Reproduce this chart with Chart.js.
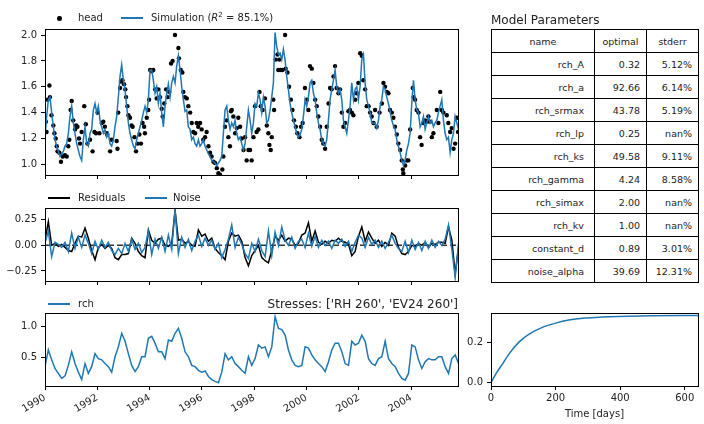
<!DOCTYPE html>
<html>
<head>
<meta charset="utf-8">
<script src="https://cdn.jsdelivr.net/npm/chart.js@4.4.1/dist/chart.umd.min.js"></script>
<style>
  body { margin: 0; background: #fff; }
  #wrap { position: relative; width: 704px; height: 424px; background: #fff; font-family: 'DejaVu Sans', sans-serif; color: #222; }
  canvas { position: absolute; }
  .txt { position: absolute; white-space: nowrap; font-size: 10px; line-height: 12px; }
  .big { font-size: 12px; line-height: 14px; }
  .hline { position: absolute; height: 1.6px; background: #1f77b4; }
  #params { position: absolute; left: 491px; top: 29px; border-collapse: collapse; table-layout: fixed; font-size: 9.5px; }
  #params td { border: 1px solid #000; height: 23px; padding: 0 6px 0 0; text-align: right; box-sizing: border-box; }
  #params tr:first-child td { text-align: center; padding: 0; }
</style>
</head>
<body>
<div id="wrap">
  <canvas id="cHead" width="470" height="200" style="left:0;top:0"></canvas>
  <canvas id="cRes" width="470" height="120" style="left:0;top:185px"></canvas>
  <canvas id="cRch" width="470" height="134" style="left:0;top:290px"></canvas>
  <canvas id="cStep" width="249" height="134" style="left:455px;top:290px"></canvas>

  <div style="position:absolute;left:57px;top:16px;width:4.5px;height:4.5px;border-radius:50%;background:#000"></div>
  <div class="txt" style="left:78px;top:12px">head</div>
  <div class="hline" style="left:121px;top:17px;width:22px"></div>
  <div class="txt" style="left:151px;top:12px">Simulation (<i>R</i><sup style="font-size:7px;line-height:0">2</sup> = 85.1%)</div>

  <div class="hline" style="left:48px;top:197px;width:22px;background:#000"></div>
  <div class="txt" style="left:78px;top:192px">Residuals</div>
  <div class="hline" style="left:145px;top:197px;width:22px"></div>
  <div class="txt" style="left:173px;top:192px">Noise</div>

  <div class="hline" style="left:48px;top:303px;width:22px"></div>
  <div class="txt" style="left:78px;top:298px">rch</div>
  <div class="txt big" style="right:246px;top:297px">Stresses: ['RH 260', 'EV24 260']</div>

  <div class="txt big" style="left:491px;top:13px">Model Parameters</div>
  <table id="params"></table>
</div>
<script>
// time axis (decimal years)
const xMin = 1990, xMax = 2005.79;
const yearTicks = [1990, 1992, 1994, 1996, 1998, 2000, 2002, 2004];

// simulated head, read at a fixed spacing
const simT0 = 1990, simDt = 0.06374;
const simValues = [
  1.21,1.37,1.50,1.52,1.40,1.29,1.19,1.14,1.10,1.06,
  1.08,1.10,1.14,1.16,1.24,1.37,1.45,1.32,1.24,1.16,
  1.11,1.06,1.03,1.19,1.29,1.16,1.14,1.24,1.27,1.42,
  1.47,1.40,1.45,1.34,1.29,1.24,1.27,1.21,1.24,1.16,
  1.14,1.19,1.29,1.37,1.52,1.68,1.77,1.65,1.58,1.45,
  1.32,1.24,1.19,1.14,1.12,1.19,1.24,1.29,1.34,1.40,
  1.45,1.40,1.50,1.73,1.73,1.65,1.55,1.60,1.47,1.55,
  1.40,1.29,1.45,1.55,1.62,1.52,1.63,1.68,1.63,1.76,
  1.84,1.73,1.60,1.50,1.41,1.42,1.29,1.27,1.19,1.21,
  1.16,1.14,1.19,1.14,1.16,1.19,1.14,1.11,1.08,1.06,
  1.03,1.02,1.01,0.99,1.01,
  1.03,1.06,1.24,1.42,1.45,1.34,1.27,1.32,1.29,1.34,
  1.24,1.19,1.21,1.16,1.11,1.16,1.29,1.42,1.34,1.24,
  1.32,1.47,1.45,1.55,1.50,1.40,1.52,1.45,1.32,1.34,
  1.42,1.52,1.63,2.02,1.91,1.85,1.86,1.81,1.89,1.81,
  1.68,1.58,1.47,1.40,1.34,1.29,1.24,1.21,1.23,1.27,
  1.37,1.50,1.45,1.52,1.63,1.65,1.55,1.50,1.40,1.32,
  1.27,1.19,1.16,1.14,1.19,1.34,1.50,1.58,1.65,1.73,
  1.60,1.55,1.58,1.50,1.34,1.29,1.24,1.34,1.45,1.63,
  1.50,1.58,1.60,1.50,1.60,1.81,1.85,1.63,1.50,1.45,
  1.40,1.32,1.32,1.32,1.28,1.34,1.45,1.50,1.60,1.58,
  1.52,1.47,1.41,1.34,1.30,1.27,1.19,1.14,1.09,1.03,
  0.99,1.03,1.11,1.16,1.24,1.47,1.65,1.50,1.42,1.40,
  1.29,1.32,1.37,1.27,1.32,1.37,1.32,1.34,1.29,1.32,
  1.34,1.40,1.45,1.50,1.34,1.24,1.19,1.21,1.09,1.19,
  1.24,1.37,1.32,1.27
];

// observed head
const headTimes = [
  1990.03,1990.06,1990.10,1990.17,1990.19,1990.25,1990.32,1990.36,1990.41,1990.45,
  1990.48,1990.55,1990.61,1990.68,1990.76,1990.83,1990.89,1990.93,1990.98,1991.02,
  1991.08,1991.15,1991.19,1991.24,1991.30,1991.34,1991.40,1991.50,1991.56,1991.62,
  1991.72,1991.82,1991.89,1991.95,1992.01,1992.08,1992.17,1992.23,1992.29,1992.36,
  1992.38,1992.49,1992.55,1992.74,1992.77,1992.80,1992.87,1992.91,1992.96,1993.02,
  1993.07,1993.10,1993.15,1993.19,1993.25,1993.31,1993.35,1993.42,1993.48,1993.54,
  1993.61,1993.67,1993.73,1993.79,1993.82,1993.89,1993.95,1993.98,1994.02,1994.08,
  1994.14,1994.21,1994.27,1994.33,1994.40,1994.46,1994.50,1994.56,1994.63,1994.69,
  1994.75,1994.82,1994.88,1994.97,1995.10,1995.12,1995.19,1995.25,1995.29,1995.35,
  1995.42,1995.48,1995.55,1995.61,1995.67,1995.74,1995.80,1995.86,1995.93,1995.99,
  1996.05,1996.12,1996.18,1996.25,1996.31,1996.37,1996.44,1996.50,1996.57,1996.63,
  1996.69,1996.78,1996.82,1996.88,1996.95,1997.01,1997.07,1997.11,1997.14,1997.20,
  1997.27,1997.33,1997.39,1997.46,
  1997.52,1997.59,1997.65,1997.71,1997.78,1997.84,1997.90,1997.97,1998.03,1998.09,
  1998.16,1998.20,1998.25,1998.32,1998.41,1998.48,1998.54,1998.58,1998.63,1998.67,
  1998.73,1998.76,1998.82,1998.89,1998.92,1998.96,1999.01,1999.08,1999.18,1999.20,
  1999.27,1999.33,1999.40,1999.46,1999.52,1999.59,1999.65,1999.73,1999.79,1999.85,
  1999.94,2000.01,2000.07,2000.13,2000.20,2000.26,2000.33,2000.39,2000.45,2000.52,
  2000.58,2000.64,2000.71,2000.77,2000.84,2000.90,2000.96,2001.03,2001.09,2001.15,
  2001.22,2001.28,2001.35,2001.41,2001.47,2001.60,2001.66,2001.73,2001.79,2001.86,
  2001.92,2001.98,2002.05,2002.11,2002.17,2002.24,2002.30,2002.37,2002.43,2002.49,
  2002.56,2002.62,2002.68,2002.79,2002.88,2002.94,2003.00,2003.07,2003.13,2003.19,
  2003.26,2003.32,2003.38,2003.45,2003.51,2003.58,2003.64,2003.68,2003.70,2003.77,
  2003.83,2003.89,2003.96,2004.06,2004.09,2004.15,2004.21,2004.28,2004.34,2004.40,
  2004.47,2004.53,2004.60,2004.66,2004.72,2004.79,2004.85,2004.98,2005.04,2005.11,
  2005.17,2005.23,2005.36,2005.42,2005.49,2005.55,2005.62,2005.68,2005.74,2005.79
];
const headValues = [
  1.33,1.25,1.50,1.61,1.52,1.38,1.30,1.24,1.20,1.14,
  1.10,1.09,1.02,1.06,1.07,1.06,1.14,1.19,1.42,1.49,
  1.34,1.27,1.30,1.29,1.20,1.16,1.25,1.45,1.31,1.16,
  1.19,1.10,1.25,1.24,1.40,1.24,1.32,1.33,1.29,1.24,
  1.23,1.10,1.19,1.18,1.12,1.40,1.59,1.64,1.65,1.62,
  1.58,1.52,1.45,1.38,1.36,1.30,1.29,1.21,1.10,1.16,
  1.23,1.16,1.32,1.29,1.24,1.36,1.42,1.50,1.73,1.72,
  1.73,1.58,1.51,1.58,1.52,1.43,1.37,1.47,1.58,1.52,
  1.56,1.78,1.80,2.00,1.90,1.82,1.73,1.71,1.56,1.52,
  1.51,1.45,1.40,1.32,1.25,1.24,1.32,1.29,1.32,1.27,
  1.19,1.21,1.25,1.14,1.09,1.06,1.02,1.01,0.97,0.93,
  0.92,0.96,1.06,1.29,1.34,1.21,1.14,1.41,1.42,1.37,
  1.24,1.28,1.36,1.29,
  1.20,1.11,1.21,1.03,1.11,1.11,1.03,1.21,1.45,1.25,
  1.27,1.56,1.45,1.42,1.51,1.30,1.24,1.15,1.11,1.21,
  1.50,1.42,1.81,1.85,1.73,1.81,1.73,1.73,2.00,1.74,
  1.71,1.60,1.50,1.42,1.34,1.29,1.24,1.21,1.29,1.32,
  1.59,1.50,1.42,1.76,1.74,1.63,1.50,1.45,1.37,1.29,
  1.19,1.16,1.12,1.29,1.47,1.59,1.58,1.68,1.76,1.59,
  1.55,1.58,1.40,1.29,1.32,1.41,1.42,1.40,1.38,1.50,
  1.55,1.63,1.86,1.84,1.65,1.58,1.45,1.45,1.40,1.37,
  1.32,1.42,1.29,1.40,1.47,1.63,1.60,1.56,1.55,1.42,
  1.40,1.36,1.29,1.23,1.16,1.11,1.03,0.96,0.93,0.99,
  1.03,1.03,1.27,1.59,1.52,1.50,1.42,1.40,1.21,1.15,
  1.32,1.34,1.33,1.37,1.33,1.21,1.24,1.42,1.32,1.56,
  1.42,1.40,1.38,1.32,1.25,1.28,1.12,1.16,1.36,1.25
];

// residuals, noise and rch contribution, read at a coarser spacing
const serT0 = 1990, serDt = 0.1275;
const residualValues = [
  0.05,0.23,0.00,0.02,-0.01,0.01,-0.02,-0.05,-0.06,0.02,
  0.09,0.08,0.17,0.07,-0.05,-0.14,-0.02,0.01,-0.03,0.00,
  -0.03,-0.12,-0.14,-0.09,-0.09,-0.08,0.07,0.02,-0.06,-0.10,
  -0.12,0.15,0.05,0.02,0.06,0.07,0.00,-0.01,0.02,0.34,
  0.05,0.06,0.02,0.04,0.00,-0.01,0.15,0.09,0.11,0.04,
  0.07,-0.03,-0.07,-0.10,-0.14,0.04,0.12,0.09,0.10,0.04,
  -0.12,-0.20,-0.10,-0.05,0.00,-0.12,-0.15,-0.17,-0.05,0.09,
  0.05,0.10,0.04,0.07,0.06,0.00,0.02,0.10,0.12,0.22,
  0.04,0.14,0.03,0.01,0.04,0.02,0.05,0.04,0.07,0.04,
  0.03,0.01,-0.10,-0.06,0.09,0.18,0.04,0.13,0.07,0.02,
  0.05,-0.01,0.03,0.00,0.12,0.09,-0.02,-0.08,-0.09,-0.06,
  0.00,-0.01,0.02,0.00,0.03,-0.02,0.02,0.01,0.03,0.03,
  0.02,0.18,0.05,-0.28,-0.02
];
const noiseValues = [
  0.02,0.14,-0.11,0.03,0.01,-0.02,0.03,-0.06,0.12,-0.03,
  0.08,-0.02,0.10,0.02,-0.08,0.04,-0.04,0.05,-0.02,0.03,
  -0.05,-0.09,-0.03,-0.08,0.02,-0.06,0.06,-0.04,0.02,-0.07,
  -0.02,0.14,-0.09,0.06,-0.03,0.08,-0.06,0.10,-0.04,0.35,
  -0.08,0.08,-0.02,0.06,-0.05,0.04,0.10,-0.01,0.07,0.00,
  0.05,-0.04,0.02,-0.12,-0.04,0.06,0.20,-0.02,0.08,0.01,
  -0.08,-0.13,0.02,-0.06,0.06,-0.05,-0.11,0.14,-0.10,0.13,
  0.00,0.18,0.05,0.00,0.08,-0.03,0.04,0.06,-0.02,0.12,
  -0.01,0.09,-0.02,0.05,0.00,0.04,-0.03,0.05,0.02,0.06,
  -0.01,0.04,-0.06,0.03,0.10,0.07,-0.02,0.08,0.01,0.05,
  -0.02,0.04,-0.03,0.03,0.10,0.02,-0.03,-0.06,0.04,-0.07,
  0.05,-0.04,0.03,-0.05,0.04,-0.03,0.05,-0.02,0.04,0.00,
  0.06,0.20,-0.04,-0.31,0.02
];
const rchValues = [
  0.35,0.62,0.46,0.32,0.24,0.16,0.20,0.37,0.59,0.40,
  0.26,0.14,0.40,0.24,0.35,0.56,0.48,0.46,0.40,0.35,
  0.26,0.51,0.67,0.89,0.76,0.56,0.37,0.27,0.35,0.51,
  0.51,0.81,0.84,0.73,0.59,0.59,0.48,0.78,0.76,0.89,
  0.97,0.81,0.59,0.51,0.37,0.35,0.29,0.26,0.28,0.19,
  0.14,0.11,0.09,0.26,0.56,0.46,0.51,0.40,0.35,0.29,
  0.24,0.51,0.37,0.48,0.70,0.65,0.67,0.51,0.67,1.16,
  0.97,0.95,0.86,0.62,0.46,0.37,0.35,0.37,0.67,0.65,
  0.54,0.46,0.40,0.35,0.27,0.43,0.62,0.73,0.73,0.59,
  0.40,0.37,0.76,0.70,0.73,0.86,0.76,0.48,0.40,0.37,
  0.48,0.51,0.76,0.48,0.40,0.35,0.24,0.16,0.13,0.24,
  0.70,0.67,0.46,0.32,0.43,0.48,0.46,0.46,0.51,0.51,
  0.35,0.24,0.48,0.54,0.40
];

// step response
const stepDays = [0, 16, 37, 57, 88, 118, 159, 200, 241, 292, 343, 394, 496, 641];
const stepValues = [0, 0.046, 0.096, 0.145, 0.203, 0.240, 0.273, 0.294, 0.309, 0.319, 0.324, 0.327, 0.330, 0.332];

// y tick labels
const headTicks = [1.0, 1.2, 1.4, 1.6, 1.8, 2.0];
const resTicks = [-0.25, 0, 0.25];
const rchTicks = [0.5, 1.0];
const stepXTicks = [0, 200, 400, 600];
const stepYTicks = [0, 0.2];

// parameter table
const paramNames = ['rch_A', 'rch_a', 'rch_srmax', 'rch_lp', 'rch_ks', 'rch_gamma', 'rch_simax', 'rch_kv', 'constant_d', 'noise_alpha'];
const paramOptimal = ['0.32', '92.66', '43.78', '0.25', '49.58', '4.24', '2.00', '1.00', '0.89', '39.69'];
const paramStderr = ['5.12%', '6.14%', '5.19%', 'nan%', '9.11%', '8.58%', 'nan%', 'nan%', '3.01%', '12.31%'];

const tbl = document.getElementById('params');
let html = '<colgroup><col style="width:103px"><col style="width:52px"><col style="width:52px"></colgroup>';
html += '<tr><td>name</td><td>optimal</td><td>stderr</td></tr>';
paramNames.forEach((n, i) => {
  html += '<tr><td style="padding-right:10px">' + n + '</td><td>' + paramOptimal[i] + '</td><td>' + paramStderr[i] + '</td></tr>';
});
tbl.innerHTML = html;

const blue = '#1f77b4';
const tickFont = { family: 'DejaVu Sans', size: 10 };
const minus = s => s.replace('-', '\u2212');

const frame = {
  id: 'frame',
  afterDatasetsDraw(chart) {
    const a = chart.chartArea, c = chart.ctx;
    c.save();
    c.strokeStyle = '#000';
    c.lineWidth = 1;
    c.strokeRect(Math.round(a.left) + 0.5, Math.round(a.top) + 0.5, Math.round(a.right - a.left), Math.round(a.bottom - a.top));
    c.restore();
  }
};

function series(t0, dt, vals) {
  return vals.map((v, i) => ({ x: t0 + i * dt, y: v }));
}

function xAxis(min, max, ticks, height, showLabels, rotate, title) {
  return {
    type: 'linear', min: min, max: max,
    afterBuildTicks: s => { s.ticks = ticks.map(v => ({ value: v })); },
    afterFit: s => { s.height = height; },
    grid: { drawOnChartArea: false, color: '#000', tickLength: 4 },
    border: { display: false },
    title: title ? { display: true, text: title, font: tickFont, color: '#222', padding: { top: 0, bottom: 4 } } : { display: false },
    ticks: {
      display: showLabels, autoSkip: false, font: tickFont, color: '#222', padding: 2,
      minRotation: rotate, maxRotation: rotate,
      callback: v => String(v)
    }
  };
}

function yAxis(min, max, ticks, width, fmt) {
  return {
    min: min, max: max,
    afterBuildTicks: s => { s.ticks = ticks.map(v => ({ value: v })); },
    afterFit: s => { s.width = width; },
    grid: { drawOnChartArea: false, color: '#000', tickLength: 4 },
    border: { display: false },
    ticks: { font: tickFont, color: '#222', padding: 4, callback: v => minus(fmt(v)) }
  };
}

function baseOptions(padTop, padRight, scales) {
  return {
    responsive: false, animation: false, devicePixelRatio: 1,
    layout: { padding: { top: padTop, right: padRight, left: 0, bottom: 0 } },
    plugins: { legend: { display: false }, tooltip: { enabled: false } },
    scales: scales
  };
}

// head panel
new Chart(document.getElementById('cHead'), {
  type: 'scatter',
  data: {
    datasets: [
      { type: 'line', data: series(simT0, simDt, simValues), borderColor: blue, borderWidth: 1.5, pointRadius: 0, tension: 0 },
      { data: headTimes.map((t, i) => ({ x: t, y: headValues[i] })), backgroundColor: '#000', borderWidth: 0, pointRadius: 2.2 }
    ]
  },
  options: baseOptions(29, 12, {
    x: xAxis(xMin, xMax, yearTicks, 25, false, 0),
    y: yAxis(0.917, 2.047, headTicks, 45, v => v.toFixed(1))
  }),
  plugins: [frame]
});

// residuals and noise
new Chart(document.getElementById('cRes'), {
  type: 'line',
  data: {
    datasets: [
      { data: series(serT0, serDt, noiseValues), borderColor: blue, borderWidth: 1.5, pointRadius: 0 },
      { data: series(serT0, serDt, residualValues), borderColor: '#000', borderWidth: 1.5, pointRadius: 0 },
      { data: [{ x: xMin, y: 0 }, { x: xMax, y: 0 }], borderColor: '#333', borderWidth: 1.5, borderDash: [6, 3], pointRadius: 0 }
    ]
  },
  options: baseOptions(23, 12, {
    x: xAxis(xMin, xMax, yearTicks, 24, false, 0),
    y: yAxis(-0.348, 0.365, resTicks, 45, v => v.toFixed(2))
  }),
  plugins: [frame]
});

// rch contribution
new Chart(document.getElementById('cRch'), {
  type: 'line',
  data: {
    datasets: [
      { data: series(serT0, serDt, rchValues), borderColor: blue, borderWidth: 1.5, pointRadius: 0 }
    ]
  },
  options: baseOptions(23, 12, {
    x: xAxis(xMin, xMax, yearTicks, 38, true, 30),
    y: yAxis(0.036, 1.219, rchTicks, 45, v => v.toFixed(1))
  }),
  plugins: [frame]
});

// step response
new Chart(document.getElementById('cStep'), {
  type: 'line',
  data: {
    datasets: [
      { data: stepDays.map((d, i) => ({ x: d, y: stepValues[i] })), borderColor: blue, borderWidth: 1.5, pointRadius: 0, cubicInterpolationMode: 'monotone' }
    ]
  },
  options: baseOptions(23, 6, {
    x: xAxis(0, 641, stepXTicks, 38, true, 0, 'Time [days]'),
    y: yAxis(-0.016, 0.344, stepYTicks, 36, v => v.toFixed(1))
  }),
  plugins: [frame]
});
</script>
</body>
</html>
